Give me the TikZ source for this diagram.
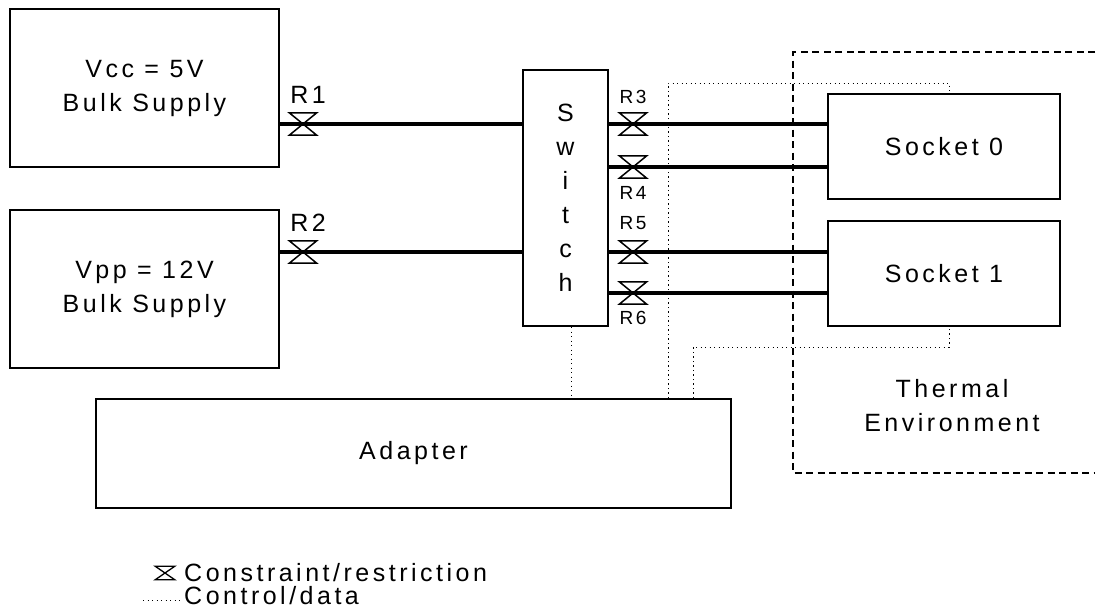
\documentclass[tikz,border=0pt]{standalone}
\usepackage{fontspec}
\setmainfont{Liberation Sans}[LetterSpace=14]
\begin{document}
\begin{tikzpicture}[x=1pt,y=-1pt,
    box/.style={draw,line width=2pt,inner sep=0pt,align=center,font=\fontsize{25}{34}\selectfont},
    txt/.style={inner sep=0pt,align=center,font=\fontsize{25}{34}\selectfont},
    rtxt/.style={inner sep=0pt,font=\fontsize{19}{22}\selectfont},
    valve/.style={minimum width=27pt,minimum height=22pt,inner sep=0pt},
    power/.style={line width=3.8pt},
    ctrl/.style={line width=1pt,dash pattern=on 1.2pt off 3.3pt},
    thermal/.style={line width=1.3pt,dash pattern=on 7pt off 4.5pt}]

    \useasboundingbox (0,0) rectangle (1100,614);

    % Supplies
    \node[box,minimum width=269pt,minimum height=158pt] (vcc) at (144.5,88) {Vcc = 5V\\Bulk Supply};
    \node[box,minimum width=269pt,minimum height=158pt] (vpp) at (144.5,289) {Vpp = 12V\\Bulk Supply};

    % Switch
    \node[box,minimum width=85pt,minimum height=256pt] (switch) at (565.5,198) {S\\w\\i\\t\\c\\h};

    % Sockets
    \node[box,minimum width=232pt,minimum height=105pt] (sock0) at (944,146.5) {Socket 0};
    \node[box,minimum width=232pt,minimum height=105pt] (sock1) at (944,273.5) {Socket 1};

    % Adapter
    \node[box,minimum width=635pt,minimum height=109pt] (adapter) at (413.5,453.5) {Adapter};

    % Thermal environment
    \draw[thermal] (1095,52) -- (793,52) -- (793,473) -- (1095,473);
    \node[txt] (therm) at (952,406) {Thermal\\Environment};

    % Constraints
    \node[valve] (r1) at (303,124) {};
    \node[valve] (r2) at (303,252) {};
    \node[valve] (r3) at (633,124) {};
    \node[valve] (r4) at (633,167) {};
    \node[valve] (r5) at (633,252) {};
    \node[valve] (r6) at (633,293) {};
    \foreach \r in {r1,r2,r3,r4,r5,r6}
        \draw[line width=1.5pt] (\r.north west) -- (\r.north east) -- (\r.south west) -- (\r.south east) -- cycle;

    % Labels
    \node[txt] at ([xshift=5pt,yshift=29pt]r1) {R1};
    \node[txt] at ([xshift=5pt,yshift=29pt]r2) {R2};
    \node[rtxt] at ([yshift=27pt]r3) {R3};
    \node[rtxt] at ([yshift=-26pt]r4) {R4};
    \node[rtxt] at ([yshift=29pt]r5) {R5};
    \node[rtxt] at ([yshift=-25pt]r6) {R6};

    % Power lines
    \draw[power] (vcc.east |- r1) -- (switch.west |- r1);
    \draw[power] (vpp.east |- r2) -- (switch.west |- r2);
    \draw[power] (switch.east |- r3) -- (sock0.west |- r3);
    \draw[power] (switch.east |- r4) -- (sock0.west |- r4);
    \draw[power] (switch.east |- r5) -- (sock1.west |- r5);
    \draw[power] (switch.east |- r6) -- (sock1.west |- r6);

    % Control/data
    \coordinate (c0) at (668,83);
    \coordinate (c1) at (693,347);
    \draw[ctrl] ([xshift=5.5pt]switch.south) -- ([xshift=5.5pt]switch.south |- adapter.north);
    \draw[ctrl] (c0 |- adapter.north) -- (c0) -| ([xshift=5pt]sock0.north);
    \draw[ctrl] (c1 |- adapter.north) -- (c1) -| ([xshift=5pt]sock1.south);

    % Legend
    \node[valve,minimum width=19pt,minimum height=13pt] (legvalve) at (165,573) {};
    \draw[line width=1.3pt] (legvalve.north west) -- (legvalve.north east) -- (legvalve.south west) -- (legvalve.south east) -- cycle;
    \node[txt,anchor=west] (legc) at (184,573) {Constraint/restriction};
    \coordinate (dota) at (143,600);
    \coordinate (dotb) at (180,600);
    \draw[ctrl] (dota) -- (dotb);
    \node[txt,anchor=west] (legd) at (184,596) {Control/data};
\end{tikzpicture}
\end{document}
